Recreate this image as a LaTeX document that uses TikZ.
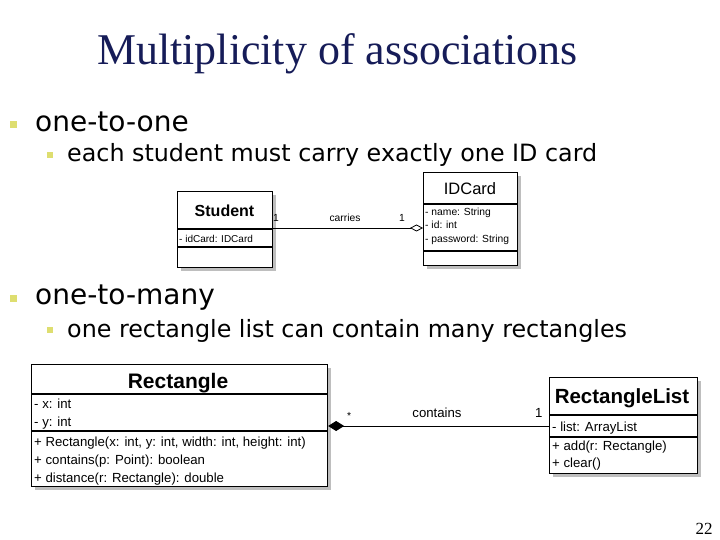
\documentclass[tikz,border=0pt]{standalone}
\usepackage{fontspec}
\setmainfont{Liberation Serif}
\newfontfamily\umlfont{Liberation Sans}
\newfontfamily\bulfont{DejaVu Sans}
\usetikzlibrary{arrows.meta}
\definecolor{titleblue}{RGB}{22,28,88}
\definecolor{bulyellow}{RGB}{222,222,112}
\definecolor{shadowgray}{RGB}{190,190,190}
\tikzset{
  cls/.style={draw=black, line width=1.1pt, fill=white, inner sep=0pt, anchor=north west},
  shadowbox/.style={fill=shadowgray},
  divider/.style={line width=1.1pt},
  hdr/.style={font=\umlfont\bfseries\fontsize{16}{18}\selectfont, anchor=base, inner sep=0pt},
  hdrbig/.style={font=\umlfont\bfseries\fontsize{20.5}{22}\selectfont, anchor=base, inner sep=0pt},
  small/.style={font=\umlfont\fontsize{10.3}{12}\selectfont, anchor=base west, inner sep=0pt},
  mid/.style={font=\umlfont\fontsize{13.2}{15}\selectfont, anchor=base west, inner sep=0pt},
  assoc/.style={line width=0.9pt},
  mainbul/.style={fill=bulyellow, minimum size=7.5pt, inner sep=0pt},
  subbul/.style={fill=bulyellow, minimum size=6pt, inner sep=0pt},
  maintxt/.style={font=\bulfont\fontsize{28}{32}\selectfont, anchor=base west, inner sep=0pt},
  subtxt/.style={font=\bulfont\fontsize{23.8}{28}\selectfont, anchor=base west, inner sep=0pt},
}
\begin{document}
\begin{tikzpicture}[x=1pt,y=-1pt]
\useasboundingbox[fill=white] (0,0) rectangle (720,540);

% title
\node[font=\fontsize{43.9}{48}\selectfont, text=titleblue, anchor=base, inner sep=0pt] (title) at (337.5,65) {Multiplicity of associations};

% bullets
\node[mainbul] (b1) at (13.5,124.5) {};
\node[maintxt] (t1) at (35,132) {one-to-one};
\node[subbul] (b1s) at (50,155) {};
\node[subtxt] (t1s) at (67,162) {each student must carry exactly one ID card};

\node[mainbul] (b2) at (13.5,298.5) {};
\node[maintxt] (t2) at (35,304) {one-to-many};
\node[subbul] (b2s) at (50,330) {};
\node[subtxt] (t2s) at (67,337) {one rectangle list can contain many rectangles};

% Student
\fill[shadowbox] (181,195) rectangle (276,271);
\node[cls, minimum width=95pt, minimum height=76pt] (st) at (177,191) {};
\draw[divider] (st.west |- 0,229) -- (st.east |- 0,229);
\draw[divider] (st.west |- 0,247) -- (st.east |- 0,247);
\node[hdr] (stn) at (224.5,217) {Student};
\node[small, font=\umlfont\fontsize{10}{12}\selectfont] (sta) at (179,242) {- idCard: IDCard};

% IDCard
\fill[shadowbox] (427,176) rectangle (521,269);
\node[cls, minimum width=94pt, minimum height=93pt] (id) at (423,172) {};
\draw[divider] (id.west |- 0,204) -- (id.east |- 0,204);
\draw[divider] (id.west |- 0,251) -- (id.east |- 0,251);
\node[hdr, font=\umlfont\fontsize{16.5}{18}\selectfont] (idn) at (470,195) {IDCard};
\node[small] (ida1) at (425,215) {- name: String};
\node[small] (ida2) at (425,229) {- id: int};
\node[small] (ida3) at (425,243) {- password: String};

% association 1
\draw[assoc, -{Diamond[open, length=13pt, width=7pt, line width=0.8pt]}] (st.east |- 0,228) -- (id.west |- 0,228);
\node[small] (m1a) at (273,222) {1};
\node[small, anchor=base] (l1) at (345,222) {carries};
\node[small] (m1b) at (399,222) {1};

% Rectangle
\fill[shadowbox] (35,368) rectangle (331,490);
\node[cls, minimum width=296pt, minimum height=122pt] (rc) at (31,364) {};
\draw[divider] (rc.west |- 0,394) -- (rc.east |- 0,394);
\draw[divider] (rc.west |- 0,431) -- (rc.east |- 0,431);
\node[hdrbig, font=\umlfont\bfseries\fontsize{21}{24}\selectfont] (rcn) at (178,388) {Rectangle};
\node[mid] (rca1) at (34,408) {- x: int};
\node[mid] (rca2) at (34,426) {- y: int};
\node[mid] (rcm1) at (34,446) {+ Rectangle(x: int, y: int, width: int, height: int)};
\node[mid] (rcm2) at (34,464) {+ contains(p: Point): boolean};
\node[mid] (rcm3) at (34,482) {+ distance(r: Rectangle): double};

% RectangleList
\fill[shadowbox] (553,381) rectangle (701,477);
\node[cls, minimum width=148pt, minimum height=96pt] (rl) at (549,377) {};
\draw[divider] (rl.west |- 0,415) -- (rl.east |- 0,415);
\draw[divider] (rl.west |- 0,437) -- (rl.east |- 0,437);
\node[hdrbig] (rln) at (622,403) {RectangleList};
\node[mid] (rla1) at (552,431) {- list: ArrayList};
\node[mid] (rlm1) at (552,450) {+ add(r: Rectangle)};
\node[mid] (rlm2) at (552,467) {+ clear()};

% association 2
\draw[assoc, {Diamond[length=16pt, width=10pt]}-] (rc.east |- 0,426) -- (rl.west |- 0,426);
\node[small] (m2a) at (347,419) {*};
\node[mid, anchor=base] (l2) at (437,417) {contains};
\node[mid] (m2b) at (535,417) {1};

% page number
\node[font=\fontsize{17}{20}\selectfont, anchor=base, inner sep=0pt] (pg) at (704,534) {22};
\end{tikzpicture}
\end{document}
